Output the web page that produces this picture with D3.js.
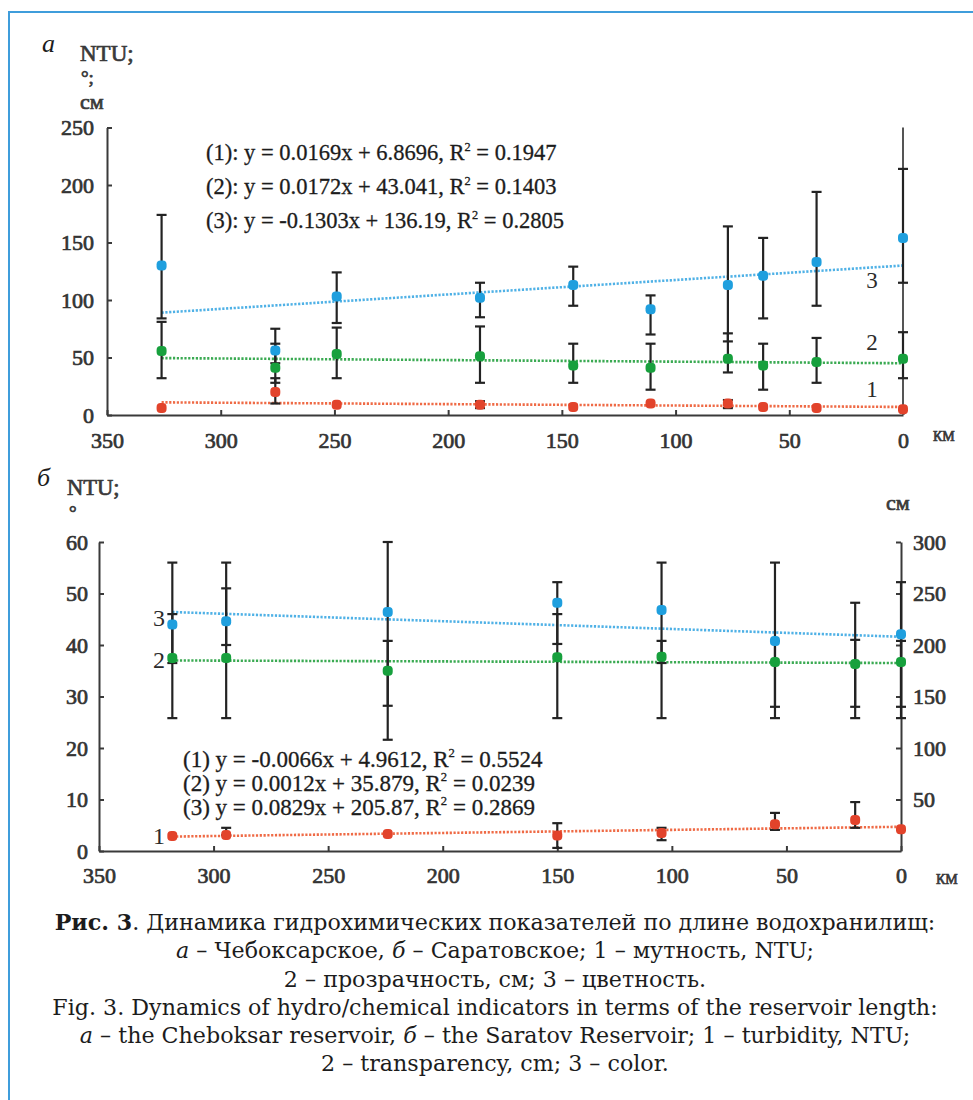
<!DOCTYPE html>
<html>
<head>
<meta charset="utf-8">
<script src="https://cdn.jsdelivr.net/npm/d3@7"></script>
<style>
  body { margin: 0; background: #fff; }
  svg { display: block; }
  .domain, .tick line { stroke: #3a3a3a; stroke-width: 2; }
</style>
</head>
<body>
<div id="chart"></div>
<script>
// Panel a: Cheboksary reservoir
const kmA = [326, 276, 249, 186, 145, 111, 77, 61.5, 38, 0];
const colorA = [130, 56, 103, 102, 113, 92, 113, 121, 133, 154];
const colorLoA = [84, 45, 80, 85, 95, 70, 64, 84, 95, 115];
const colorHiA = [174, 75, 124, 115, 129, 104, 164, 154, 194, 214];
const transpA = [55.6, 41, 53, 51, 43, 41, 49, 43, 46, 49];
const transpLoA = [32, 28, 32, 28, 28, 22, 37, 22, 28, 32];
const transpHiA = [81, 62, 76, 77, 62, 62, 71, 62, 67, 72];
const turbA = [6, 20, 9, 9, 7, 10, 10, 7, 6, 5];
const turbLoA = [6, 10, 9, 6, 7, 10, 6, 7, 6, 5];
const turbHiA = [6, 32, 9, 12, 7, 10, 13, 7, 6, 5];
// trend lines, end points [km, value]
const trendA = {
  color: [[326, 89], [0, 130]],
  transp: [[326, 49.5], [0, 45]],
  turb: [[326, 11], [0, 7]]
};
const eqA = [
  '(1): y = 0.0169x + 6.8696, R|2| = 0.1947',
  '(2): y = 0.0172x + 43.041, R|2| = 0.1403',
  '(3): y = -0.1303x + 136.19, R|2| = 0.2805'
];
const ticksYA = [0, 50, 100, 150, 200, 250];

// Panel b: Saratov reservoir (colour on right axis, cm)
const kmB = [318, 294.5, 224, 150, 104.5, 55, 20, 0];
const colorB = [220, 223, 232, 241, 234, 204, null, 210.5];
const colorLoB = [129, 129, 108, 129, 129, 129, 129, 129];
const colorHiB = [280, 280, 300, 261, 280, 280, 241, 261];
const transpB = [37.5, 37.5, 35, 37.6, 37.7, 36.7, 36.3, 36.7];
const transpLoB = [36.5, 40, 28.2, 40.2, 36.5, 28, 28, 28];
const transpHiB = [46, 51, 40.8, 46, 40.8, 40.8, 41, 40.8];
const turbB = [2.9, 3.1, 3.3, 3, 3.5, 5.2, 6, 4.2];
const turbLoB = [2.9, 3.1, 3.3, 0.6, 2.1, 4.1, 4.5, 4.2];
const turbHiB = [2.9, 4.5, 3.3, 5.4, 4.5, 7.4, 9.5, 4.2];
const trendB = {
  color: [[318, 232], [0, 208]],
  transp: [[318, 37], [0, 36.5]],
  turb: [[318, 2.8], [0, 4.7]]
};
const eqB = [
  '(1) y = -0.0066x + 4.9612, R|2| = 0.5524',
  '(2) y = 0.0012x + 35.879, R|2| = 0.0239',
  '(3) y = 0.0829x + 205.87, R|2| = 0.2869'
];
const ticksYB = [0, 10, 20, 30, 40, 50, 60];
const ticksYRB = [50, 100, 150, 200, 250, 300];
const ticksX = [350, 300, 250, 200, 150, 100, 50, 0];

const caption = [
  [['Рис. 3', 'b'], ['. Динамика гидрохимических показателей по длине водохранилищ:', '']],
  [['а', 'i'], [' – Чебоксарское, ', ''], ['б', 'i'], [' – Саратовское; 1 – мутность, NTU;', '']],
  [['2 – прозрачность, см; 3 – цветность.', '']],
  [['Fig. 3. Dynamics of hydro/chemical indicators in terms of the reservoir length:', '']],
  [['а', 'i'], [' – the Cheboksar reservoir, ', ''], ['б', 'i'], [' – the Saratov Reservoir; 1 – turbidity, NTU;', '']],
  [['2 – transparency, cm; 3 – color.', '']]
];

const colours = { color: '#1f9fde', transp: '#17a03d', turb: '#e2432b' };
const trendColours = { color: '#4fb1e6', transp: '#3aaa52', turb: '#ef6a45' };
const serif = "'Liberation Serif', 'Times New Roman', serif";

const width = 973, height = 1100;
const svg = d3.select('#chart').append('svg')
  .attr('width', width).attr('height', height);

svg.append('rect').attr('width', width).attr('height', height).attr('fill', '#fff');

// blue frame
svg.append('path')
  .attr('d', 'M9,1100 V12 H973')
  .attr('fill', 'none').attr('stroke', '#3f9ddb').attr('stroke-width', 2);

// text with superscript "2" (marked as |2|)
function eqText (g, str, x, y, size) {
  let t = g.append('text').attr('x', x).attr('y', y)
    .attr('font-family', serif).attr('font-size', size).attr('fill', '#1c1c1c')
    .attr('stroke', '#1c1c1c').attr('stroke-width', 0.3);
  str.split('|').forEach((part, i) => {
    if (i % 2 === 1) {
      t.append('tspan').attr('font-size', size * 0.55).attr('dy', -size * 0.42).text(part);
    } else {
      let s = t.append('tspan').text(part);
      if (i > 0) s.attr('dy', size * 0.42);
    }
  });
}

function errorBars (g, x, y, km, lo, hi) {
  km.forEach((k, i) => {
    if (lo[i] === hi[i]) return;
    let px = x(k);
    g.append('line').attr('x1', px).attr('x2', px)
      .attr('y1', y(lo[i])).attr('y2', y(hi[i]))
      .attr('stroke', '#232323').attr('stroke-width', 2.2);
    [lo[i], hi[i]].forEach(v => {
      g.append('line').attr('x1', px - 5).attr('x2', px + 5)
        .attr('y1', y(v)).attr('y2', y(v))
        .attr('stroke', '#232323').attr('stroke-width', 2.2);
    });
  });
}

function trend (g, x, y, pts, key) {
  g.append('path')
    .attr('d', d3.line().x(d => x(d[0])).y(d => y(d[1]))(pts))
    .attr('fill', 'none')
    .attr('stroke', trendColours[key])
    .attr('stroke-width', 2.6)
    .attr('stroke-dasharray', '2.2,1.6');
}

function dots (g, x, y, km, vals, key) {
  g.selectAll(null)
    .data(km.map((k, i) => [k, vals[i]]).filter(d => d[1] !== null))
    .enter().append('rect')
    .attr('x', d => x(d[0]) - 5).attr('y', d => y(d[1]) - 5)
    .attr('width', 10).attr('height', 10).attr('rx', 4)
    .attr('fill', colours[key]);
}

// Liberation Serif regular, thickened with a thin stroke (bold face is not serif here)
function heavy (sel, colour) {
  return sel.attr('font-family', serif).attr('font-weight', 'normal')
    .attr('fill', colour).attr('stroke', colour).attr('stroke-width', 0.7);
}

function styleAxis (g) {
  g.attr('font-family', null).attr('font-size', null);
  heavy(g.selectAll('.tick text'), '#333').attr('font-size', 22);
}

function label (g, txt, x, y, size, opts) {
  let t = g.append('text').attr('x', x).attr('y', y)
    .attr('font-family', serif).attr('font-size', size)
    .attr('fill', '#2b2b2b').text(txt);
  if (opts === 'i') t.attr('font-style', 'italic').attr('fill', '#1c1c1c');
  if (opts === 'b') heavy(t, '#3a3a3a');
  return t;
}

/* ---------- panel a ---------- */
const xA = d3.scaleLinear().domain([350, 0]).range([107, 903]);
const yA = d3.scaleLinear().domain([0, 250]).range([415, 127.5]);
const gA = svg.append('g');

styleAxis(gA.append('g').attr('transform', 'translate(0,415)')
  .call(d3.axisBottom(xA).tickValues(ticksX).tickSize(-5).tickSizeOuter(0).tickPadding(17)));
styleAxis(gA.append('g').attr('transform', 'translate(107,0)')
  .call(d3.axisLeft(yA).tickValues(ticksYA).tickSize(-5).tickSizeOuter(0).tickPadding(13)));
gA.append('line').attr('x1', xA(0)).attr('x2', xA(0)).attr('y1', yA(0)).attr('y2', yA(250))
  .attr('stroke', '#555').attr('stroke-width', 2);

trend(gA, xA, yA, trendA.turb, 'turb');
trend(gA, xA, yA, trendA.transp, 'transp');
trend(gA, xA, yA, trendA.color, 'color');
errorBars(gA, xA, yA, kmA, colorLoA, colorHiA);
errorBars(gA, xA, yA, kmA, transpLoA, transpHiA);
errorBars(gA, xA, yA, kmA, turbLoA, turbHiA);
dots(gA, xA, yA, kmA, turbA, 'turb');
dots(gA, xA, yA, kmA, transpA, 'transp');
dots(gA, xA, yA, kmA, colorA, 'color');

eqA.forEach((e, i) => eqText(gA, e, 206, 160 + i * 34, 22.5));

[['3', 288], ['2', 350], ['1', 397]].forEach(d => {
  label(gA, d[0], 872, d[1], 23).attr('text-anchor', 'middle');
});

label(gA, 'а', 42, 52, 26, 'i');
label(gA, 'NTU;', 80, 61, 23, 'b');
label(gA, '°;', 81, 84, 19, 'b');
label(gA, 'см', 80, 109, 22, 'b');
label(gA, 'КМ', 933, 441, 14, 'b');

/* ---------- panel b ---------- */
const xB = d3.scaleLinear().domain([350, 0]).range([99, 901]);
const yB = d3.scaleLinear().domain([0, 60]).range([851, 542]);
const yRB = d3.scaleLinear().domain([0, 300]).range([851, 542]);
const gB = svg.append('g');

styleAxis(gB.append('g').attr('transform', 'translate(0,851)')
  .call(d3.axisBottom(xB).tickValues(ticksX).tickSize(-5).tickSizeOuter(0).tickPadding(16)));
styleAxis(gB.append('g').attr('transform', 'translate(99,0)')
  .call(d3.axisLeft(yB).tickValues(ticksYB).tickSize(-5).tickSizeOuter(0).tickPadding(11)));
styleAxis(gB.append('g').attr('transform', 'translate(901,0)')
  .call(d3.axisRight(yRB).tickValues(ticksYRB).tickSize(-5).tickSizeOuter(0).tickPadding(12)));

trend(gB, xB, yB, trendB.turb, 'turb');
trend(gB, xB, yB, trendB.transp, 'transp');
trend(gB, xB, yRB, trendB.color, 'color');
errorBars(gB, xB, yRB, kmB, colorLoB, colorHiB);
errorBars(gB, xB, yB, kmB, transpLoB, transpHiB);
errorBars(gB, xB, yB, kmB, turbLoB, turbHiB);
dots(gB, xB, yB, kmB, turbB, 'turb');
dots(gB, xB, yB, kmB, transpB, 'transp');
dots(gB, xB, yRB, kmB, colorB, 'color');

eqB.forEach((e, i) => eqText(gB, e, 183, 767 + i * 24, 23));

[['3', 626], ['2', 668], ['1', 844]].forEach(d => {
  label(gB, d[0], 159, d[1], 24).attr('text-anchor', 'middle');
});

label(gB, 'б', 37, 486, 26, 'i');
label(gB, 'NTU;', 67, 495, 22.5, 'b');
label(gB, '°', 69, 519, 19, 'b');
label(gB, 'см', 886, 510, 22, 'b');
label(gB, 'КМ', 936, 884, 14, 'b');

/* ---------- caption ---------- */
const capFont = "'DejaVu Serif', serif";
const capY = [930, 958, 987, 1015, 1043, 1071];
const capLines = caption.map((parts, i) => {
  let t = svg.append('text').attr('x', 495).attr('y', capY[i])
    .attr('text-anchor', 'middle').attr('font-family', capFont)
    .attr('font-size', 20).attr('fill', '#1c1c1c');
  parts.forEach(p => {
    let s = t.append('tspan').text(p[0]);
    if (p[1] === 'b') s.attr('font-weight', 'bold');
    if (p[1] === 'i') s.attr('font-style', 'italic');
  });
  return t;
});
// fit caption size to the width of the first line
let w0 = capLines[0].node().getComputedTextLength();
let capSize = 20 * 881 / w0;
capLines.forEach(t => t.attr('font-size', capSize));
</script>
</body>
</html>
